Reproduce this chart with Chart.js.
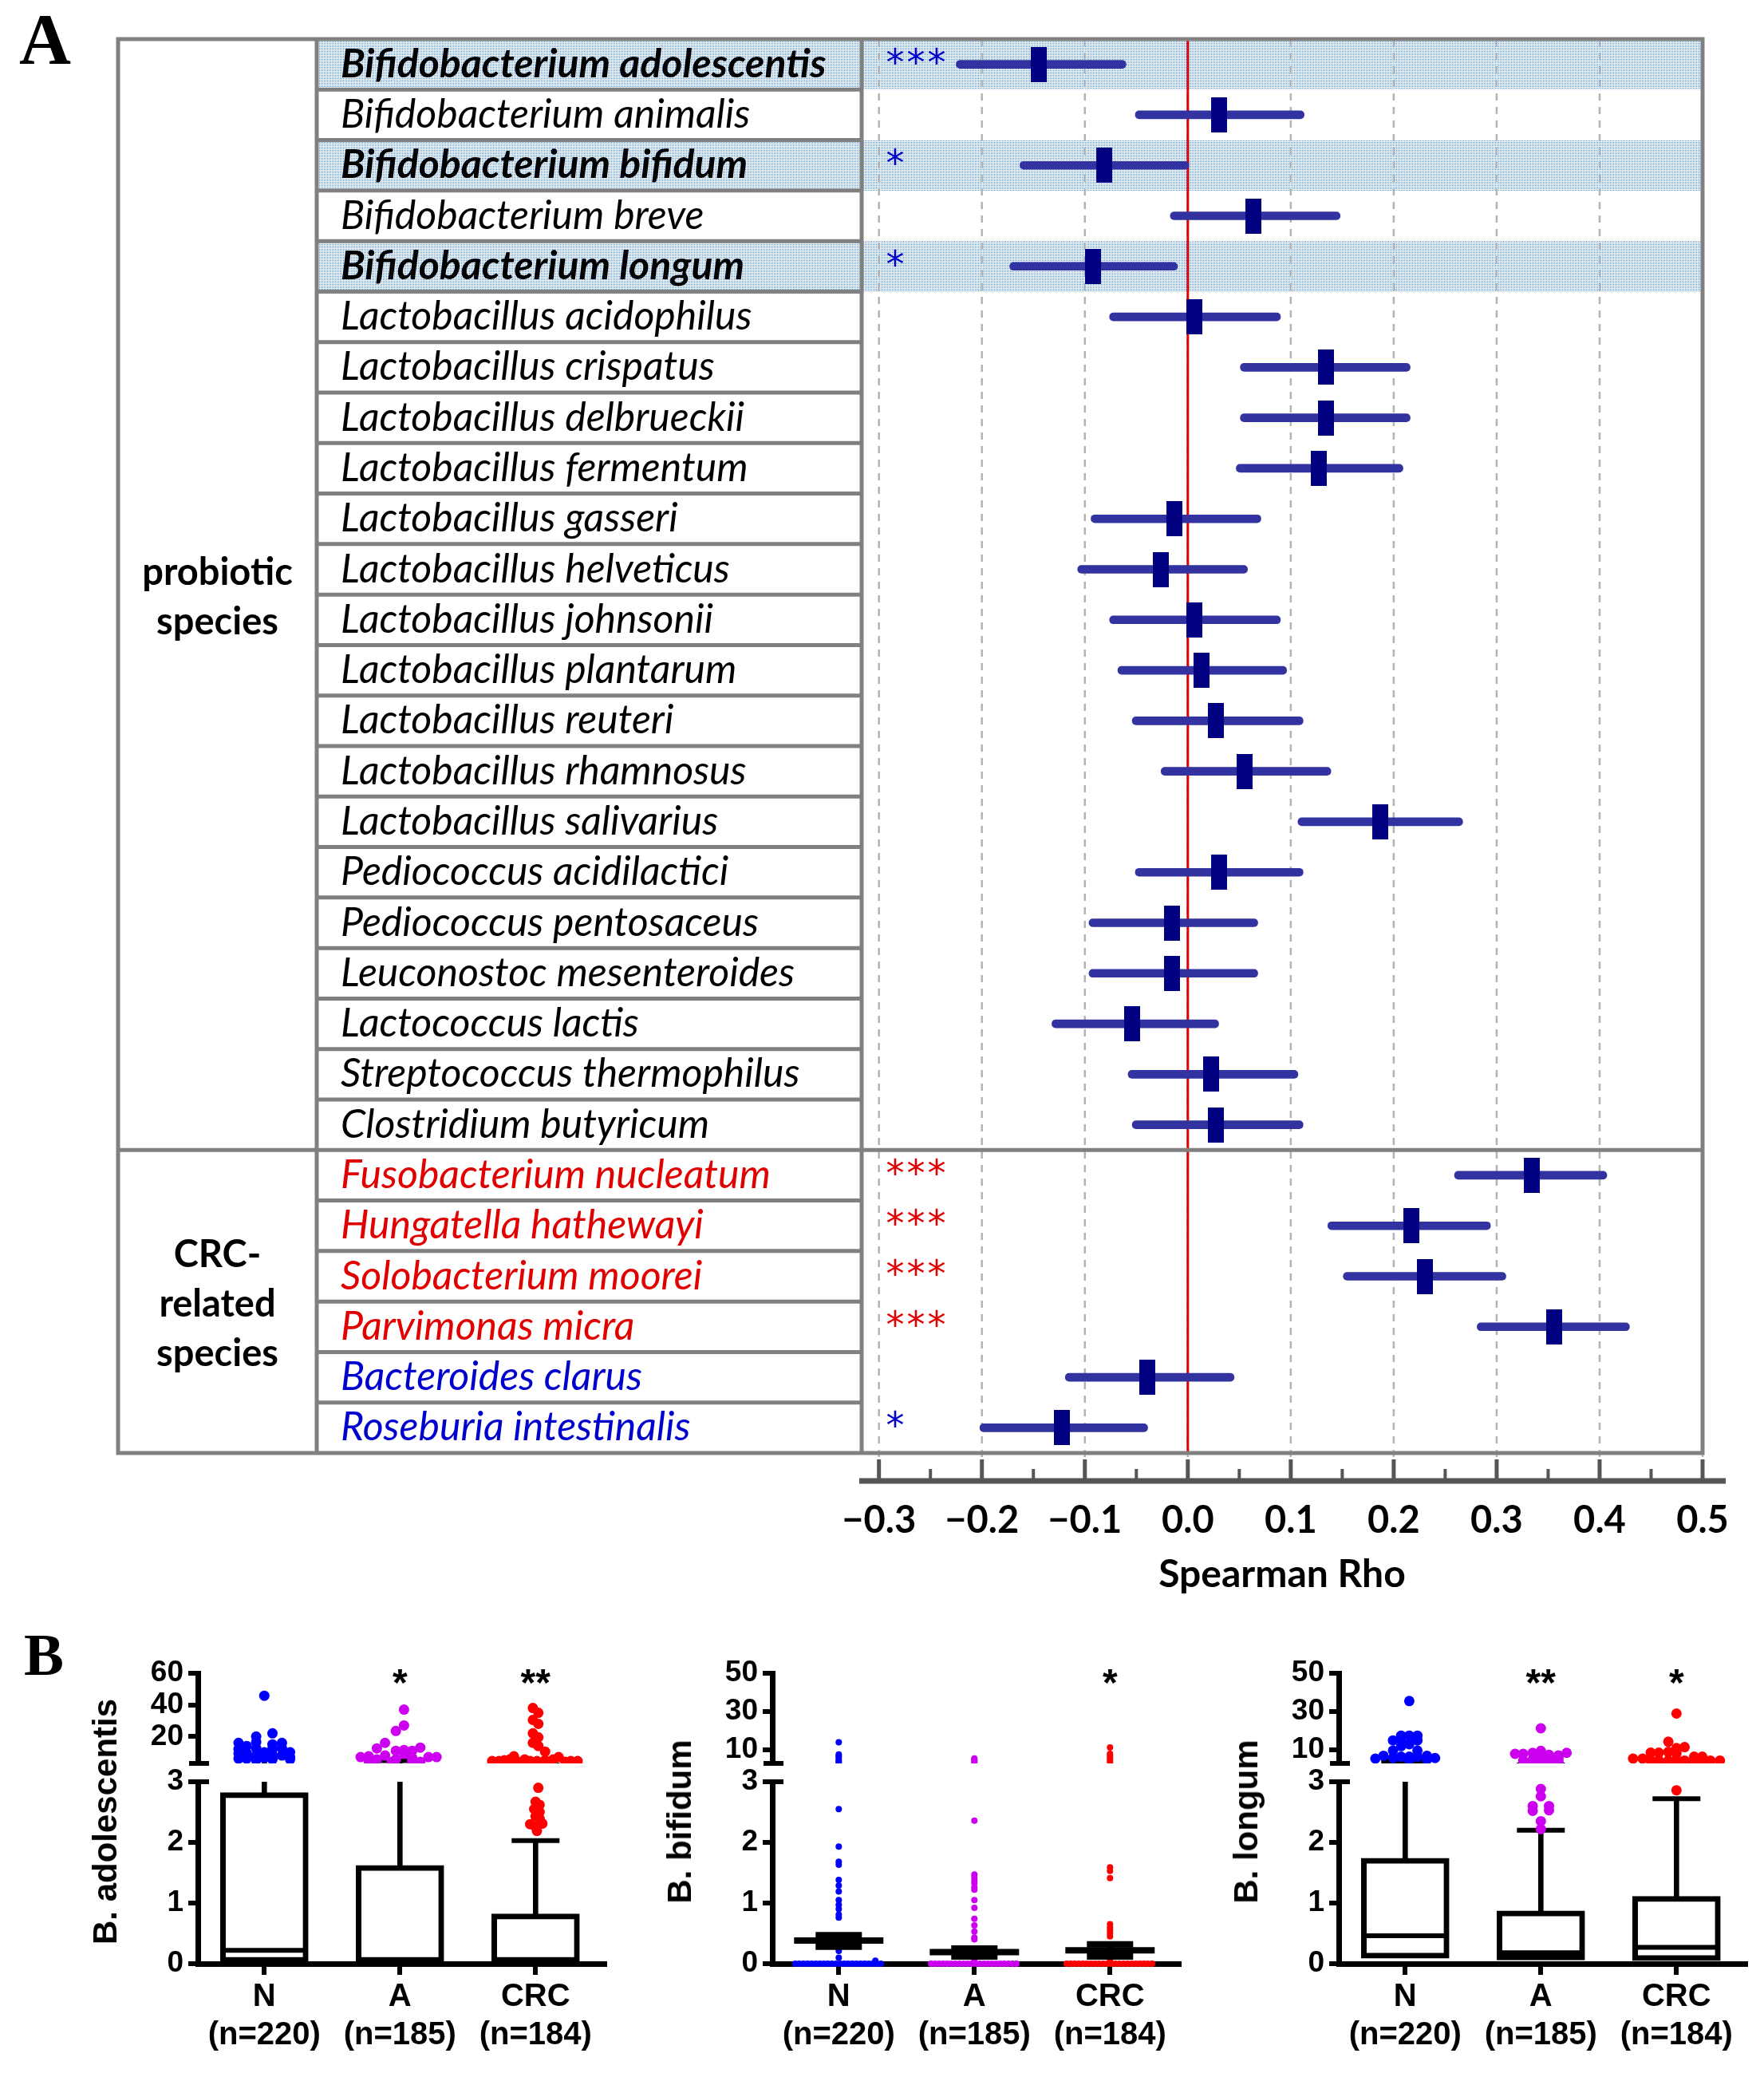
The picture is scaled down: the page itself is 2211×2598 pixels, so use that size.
<!DOCTYPE html>
<html>
<head>
<meta charset="utf-8">
<title>Probiotic species vs Spearman rho</title>
<script src="https://cdn.jsdelivr.net/npm/chart.js@4.4.1/dist/chart.umd.min.js"></script>
<style>
  html, body { margin: 0; padding: 0; background: #fff; }
  #page { position: relative; width: 2211px; height: 2598px; overflow: hidden; background: #fff; }
  #page canvas { position: absolute; }
  .panel { position: absolute; font-family: "Liberation Serif", serif; font-weight: bold; line-height: 1; color: #000; }
  .ytitle { position: absolute; font-family: "Liberation Sans", Arial, sans-serif; font-weight: bold; font-size: 42px;
            line-height: 1; white-space: nowrap; transform: translate(-50%, -50%) rotate(-90deg); }
</style>
</head>
<body>
<div id="page">
  <div class="panel" style="left:24px; top:5px; font-size:90px;">A</div>
  <div class="panel" style="left:30px; top:2036px; font-size:75px;">B</div>
  <canvas id="forest" width="2211" height="2040" style="left:0; top:0; width:2211px; height:2040px;"></canvas>
</div>
<script>
// ---------- panel A ----------
const species = [
  "Bifidobacterium adolescentis", "Bifidobacterium animalis", "Bifidobacterium bifidum",
  "Bifidobacterium breve", "Bifidobacterium longum", "Lactobacillus acidophilus",
  "Lactobacillus crispatus", "Lactobacillus delbrueckii", "Lactobacillus fermentum",
  "Lactobacillus gasseri", "Lactobacillus helveticus", "Lactobacillus johnsonii",
  "Lactobacillus plantarum", "Lactobacillus reuteri", "Lactobacillus rhamnosus",
  "Lactobacillus salivarius", "Pediococcus acidilactici", "Pediococcus pentosaceus",
  "Leuconostoc mesenteroides", "Lactococcus lactis", "Streptococcus thermophilus",
  "Clostridium butyricum", "Fusobacterium nucleatum", "Hungatella hathewayi",
  "Solobacterium moorei", "Parvimonas micra", "Bacteroides clarus", "Roseburia intestinalis"
];
const rho    = [-0.145, 0.030, -0.081, 0.064, -0.092, 0.006, 0.134, 0.134, 0.127, -0.013,
                -0.026, 0.006, 0.013, 0.027, 0.055, 0.187, 0.030, -0.015, -0.015, -0.054,
                 0.023, 0.027, 0.334, 0.217, 0.230, 0.356, -0.039, -0.122];
const ciLow  = [-0.225, -0.051, -0.163, -0.017, -0.173, -0.076, 0.051, 0.051, 0.047, -0.094,
                -0.107, -0.076, -0.068, -0.054, -0.026, 0.107, -0.051, -0.096, -0.096, -0.132,
                -0.058, -0.054, 0.259, 0.136, 0.151, 0.281, -0.119, -0.202];
const ciHigh = [-0.060, 0.113, 0.001, 0.148, -0.010, 0.090, 0.216, 0.216, 0.209, 0.071,
                 0.058, 0.090, 0.096, 0.112, 0.139, 0.267, 0.112, 0.068, 0.068, 0.030,
                 0.107, 0.112, 0.407, 0.294, 0.309, 0.429, 0.045, -0.039];
const stars  = ["***", "", "*", "", "*", "", "", "", "", "", "", "", "", "", "", "", "", "", "", "", "", "",
                "***", "***", "***", "***", "", "*"];
const boldRows = [0, 2, 4];
const redRows = [22, 23, 24, 25];
const blueRows = [26, 27];
const groupLabels = [["probiotic", "species"], ["CRC-", "related", "species"]];
const groupCounts = [22, 6];
const rhoTicks = [-0.3, -0.2, -0.1, 0.0, 0.1, 0.2, 0.3, 0.4, 0.5];

// ---------- panel B ----------
const groupNames = ["N", "A", "CRC"];
const groupSizes = ["(n=220)", "(n=185)", "(n=184)"];
const groupColors = ["#0000ff", "#cc00ee", "#ff0000"];
const bottomTicks = [0, 1, 2, 3];

// B. adolescentis (box plot)
const adolQ1 = [0.02, 0.02, 0.02];
const adolMedian = [0.22, 0.03, 0.03];
const adolQ3 = [2.82, 1.62, 0.82];
const adolWhisker = [7.3, 4.8, 2.03];
const adolStars = ["", "*", "**"];
const adolDotsN = [[0, 45.8], [0.06, 22], [-0.06, 20], [-0.19, 16], [-0.06, 16.5], [0.13, 16], [0.06, 15],
  [-0.13, 14], [-0.19, 12], [-0.06, 12.5], [0.06, 12], [0.13, 12.5], [0.19, 10], [-0.19, 9], [-0.13, 9.5],
  [0, 10], [0.06, 8.5], [-0.06, 8], [0.13, 8], [0.19, 7], [-0.19, 6], [0, 6.5], [-0.13, 6], [0.06, 5.5],
  [0.19, 5.5], [-0.06, 5]];
const adolDotsA = [[0.03, 37], [0.03, 27], [-0.03, 23.5], [-0.11, 16], [-0.17, 12.5], [-0.03, 11], [0.03, 11.5],
  [0.09, 11], [0.15, 13], [-0.29, 7], [-0.23, 7.5], [-0.11, 8], [-0.03, 5.5], [0.03, 9], [0.09, 6.5],
  [0.21, 7], [0.27, 7], [-0.17, 5.5], [-0.23, 4.5], [-0.06, 4], [0.15, 4], [0.09, 4.5]];
const adolDotsCRC = [[-0.02, 38], [0.02, 35], [-0.02, 30.5], [0.02, 28], [-0.02, 22], [0.02, 19.5], [-0.02, 16],
  [0.02, 14], [0.07, 10.5], [-0.32, 4.5], [-0.27, 4.5], [-0.23, 5], [-0.19, 5.5], [-0.16, 7.5], [-0.13, 4],
  [-0.08, 5.5], [-0.04, 4.5], [0.01, 4.5], [0.07, 5], [0.13, 5.5], [0.17, 7], [0.22, 4], [0.26, 4.5],
  [0.31, 4.5], [-0.1, 3.2], [0.1, 3.2],
  [0.02, 2.9], [0, 2.67], [0.03, 2.62], [-0.01, 2.55], [0.03, 2.5], [0, 2.43], [0.03, 2.39], [-0.04, 2.3],
  [0.05, 2.31], [0, 2.26], [0.01, 2.19]];

// B. bifidum (mean +/- SEM with all points)
const bifMean = [0.38, 0.19, 0.22];
const bifSemLow = [0.28, 0.12, 0.12];
const bifSemHigh = [0.47, 0.25, 0.32];
const bifStars = ["", "", "*"];
const bifZeroOffsets = [-0.32, -0.29, -0.26, -0.23, -0.2, -0.17, -0.14, -0.11, -0.08, -0.05, -0.02,
  0.01, 0.04, 0.07, 0.1, 0.13, 0.16, 0.19, 0.22, 0.25, 0.28, 0.31];
const bifDotsN = [[0, 14], [0, 7.7], [0, 6.8], [0, 6.3], [0, 5.2], [0, 4.2], [0, 3.6], [0, 2.55], [0, 1.93],
  [0, 1.68], [0, 1.63], [0, 1.38], [0, 1.29], [0, 1.19], [0, 1.05], [0, 0.97], [0, 0.9], [0, 0.81],
  [0, 0.76], [0, 0.21], [0, 0.1], [0.27, 0.05]];
const bifDotsA = [[0, 5.6], [0, 5], [0, 4.2], [0, 3.6], [0, 2.36], [0, 1.47], [0, 1.42], [0, 1.37], [0, 1.33],
  [0, 1.26], [0, 1.22], [0, 1.05], [0, 0.92], [0, 0.74], [0, 0.63], [0, 0.53], [0, 0.43], [0, 0.4], [0, 0.07]];
const bifDotsCRC = [[0, 11.3], [0, 8], [0, 7.2], [0, 6.2], [0, 5], [0, 3.8], [0, 1.59], [0, 1.53], [0, 1.41],
  [0, 0.65], [0, 0.6], [0, 0.55], [0, 0.5], [0, 0.45], [0, 0.04]];

// B. longum (box plot)
const longQ1 = [0.09, 0.06, 0.05];
const longMedian = [0.46, 0.18, 0.27];
const longQ3 = [1.74, 0.87, 1.11];
const longWhisker = [4.2, 2.2, 2.72];
const longStars = ["", "**", "*"];
const longDotsN = [[0.03, 35.5], [-0.03, 17.5], [0.03, 17.5], [0.09, 17.5], [-0.09, 15], [-0.03, 15.5],
  [0.09, 15], [0.03, 13], [-0.03, 12], [-0.09, 9.7], [0.09, 9.7], [-0.16, 7], [-0.03, 6.5], [0.03, 6.5],
  [0.09, 6.5], [0.16, 7], [-0.22, 5.5], [-0.09, 5.8], [0.22, 5.8], [0.16, 5], [0.03, 5]];
const longDotsA = [[0, 21.3], [-0.19, 8], [-0.13, 8], [-0.06, 8.5], [0, 9.5], [0.06, 7.5], [0.13, 7.2],
  [0.19, 8.5], [-0.13, 4.5], [-0.06, 5], [0, 5], [0.06, 4.5], [0.13, 4], [-0.06, 3.5], [0, 7], [0.06, 6],
  [0.13, 5.5], [0, 2.88], [0, 2.76], [-0.06, 2.6], [0.06, 2.6], [-0.06, 2.52], [0.06, 2.53], [0, 2.35], [0, 2.22]];
const longDotsCRC = [[0, 29], [-0.06, 14.3], [0, 11], [0.06, 11.5], [-0.19, 8.6], [-0.13, 8.6], [-0.06, 9],
  [0, 8.3], [-0.32, 5.5], [-0.25, 5.5], [-0.19, 4.5], [-0.13, 4.5], [-0.06, 4.5], [0, 5], [0.06, 4.5],
  [0.13, 4.5], [0.13, 6.5], [0.19, 5], [0.19, 6.5], [0.25, 4.5], [0.32, 4.5], [0, 3.3], [0, 2.86]];

// ---------- layout ----------
const TABLE_LEFT = 148;
const LABEL_COL_LEFT = 397;
const SANS_B = "'Liberation Sans', Arial, sans-serif";

function line(ctx, x1, y1, x2, y2) {
  ctx.beginPath(); ctx.moveTo(x1, y1); ctx.lineTo(x2, y2); ctx.stroke();
}
function rowHalf(y) {
  return (y.getPixelForValue(1) - y.getPixelForValue(0)) / 2;
}
// keep chart areas exactly where the layout padding puts them
function noLabelPadding(s) {
  s.paddingLeft = 0; s.paddingRight = 0; s.paddingTop = 0; s.paddingBottom = 0;
}
function dotPattern(ctx) {
  const t = document.createElement("canvas");
  t.width = 2; t.height = 2;
  const g = t.getContext("2d");
  g.fillStyle = "#f7fafe"; g.fillRect(0, 0, 2, 2);
  g.fillStyle = "#4a90d8"; g.fillRect(0, 0, 1, 1);
  return ctx.createPattern(t, "repeat");
}
function rhoLabel(v) {
  if (Math.abs(v) < 1e-9) return "0.0";
  return (v < 0 ? "\u2212" : "") + Math.abs(v).toFixed(1);
}

const forestDecor = {
  id: "forestDecor",
  beforeDraw(chart) {
    const { ctx, chartArea: a } = chart;
    const y = chart.scales.y;
    const half = rowHalf(y);
    ctx.save();
    ctx.fillStyle = dotPattern(ctx);
    boldRows.forEach(i => {
      const c = y.getPixelForValue(i);
      ctx.fillRect(LABEL_COL_LEFT, c - half, a.right - LABEL_COL_LEFT, 2 * half);
    });
    ctx.restore();
  },
  beforeDatasetsDraw(chart) {
    const { ctx, chartArea: a } = chart;
    const x = chart.scales.x;
    ctx.save();
    ctx.strokeStyle = "#b4b4b4";
    ctx.lineWidth = 2.5;
    ctx.setLineDash([9, 8]);
    rhoTicks.forEach(v => {
      const px = x.getPixelForValue(v);
      line(ctx, px, a.top, px, a.bottom + 8);
    });
    ctx.setLineDash([]);
    ctx.strokeStyle = "#e00000";
    ctx.lineWidth = 3;
    const z = x.getPixelForValue(0);
    line(ctx, z, a.top, z, a.bottom);
    ctx.restore();
  },
  afterDraw(chart) {
    const { ctx, chartArea: a } = chart;
    const y = chart.scales.y, x = chart.scales.x;
    const half = rowHalf(y);
    ctx.save();
    // table lines
    ctx.strokeStyle = "#808080";
    ctx.lineWidth = 5;
    for (let i = 1; i < species.length; i++) {
      const b = y.getPixelForValue(i) - half;
      if (i === groupCounts[0]) line(ctx, TABLE_LEFT, b, a.right, b);
      else line(ctx, LABEL_COL_LEFT, b, a.left, b);
    }
    ctx.strokeRect(TABLE_LEFT, a.top, a.right - TABLE_LEFT, a.bottom - a.top);
    line(ctx, LABEL_COL_LEFT, a.top, LABEL_COL_LEFT, a.bottom);
    line(ctx, a.left, a.top, a.left, a.bottom);

    // group labels
    ctx.fillStyle = "#000";
    ctx.font = "bold 47px Lato";
    ctx.textAlign = "center";
    ctx.textBaseline = "middle";
    let start = 0;
    groupLabels.forEach((lines, g) => {
      const end = start + groupCounts[g] - 1;
      const cy = (y.getPixelForValue(start) + y.getPixelForValue(end)) / 2 + 4;
      lines.forEach((t, k) => ctx.fillText(t, (TABLE_LEFT + LABEL_COL_LEFT) / 2, cy + (k - (lines.length - 1) / 2) * 62));
      start += groupCounts[g];
    });

    // significance stars
    ctx.font = "italic 46px 'DejaVu Sans'";
    stars.forEach((s, i) => {
      ctx.fillStyle = redRows.includes(i) ? "#e00000" : "#0000cc";
      for (let k = 0; k < s.length; k++) {
        ctx.fillText("*", a.left + 42 + k * 26, y.getPixelForValue(i) + 1);
      }
    });

    // x axis line with major and minor ticks
    const ay = a.bottom + 35;
    ctx.strokeStyle = "#555";
    ctx.lineWidth = 7;
    line(ctx, a.left - 3, ay, a.right + 29, ay);
    ctx.lineWidth = 5;
    rhoTicks.forEach(v => {
      const px = x.getPixelForValue(v);
      line(ctx, px, a.bottom + 8, px, ay);
    });
    ctx.lineWidth = 4;
    for (let i = 0; i < rhoTicks.length - 1; i++) {
      const px = x.getPixelForValue((rhoTicks[i] + rhoTicks[i + 1]) / 2);
      line(ctx, px, a.bottom + 20, px, ay);
    }
    ctx.restore();
  }
};

function pointMark() {
  const c = document.createElement("canvas");
  c.width = 20; c.height = 44;
  const g = c.getContext("2d");
  g.fillStyle = "#000080";
  g.fillRect(0, 0, 20, 44);
  return c;
}

function drawForest() {
  new Chart(document.getElementById("forest"), {
    type: "bar",
    data: {
      labels: species,
      datasets: [
        {
          type: "scatter",
          data: species.map((s, i) => ({ x: rho[i], y: s })),
          pointStyle: pointMark(),
          pointRadius: 10,
          order: 0
        },
        {
          type: "bar",
          indexAxis: "y",
          data: species.map((s, i) => [ciLow[i], ciHigh[i]]),
          backgroundColor: "#3232a0",
          barThickness: 10,
          borderRadius: 5,
          borderSkipped: false,
          order: 1
        }
      ]
    },
    options: {
      responsive: false,
      animation: false,
      events: [],
      layout: { autoPadding: false, padding: { left: 427, top: 49, right: 77, bottom: 0 } },
      plugins: { legend: { display: false }, tooltip: { enabled: false } },
      scales: {
        x: {
          type: "linear",
          position: "bottom",
          offset: false,
          beginAtZero: false,
          min: -0.3168,
          max: 0.5,
          afterBuildTicks: s => { s.ticks = rhoTicks.map(v => ({ value: v })); },
          afterFit: s => { s.height = 219; noLabelPadding(s); },
          grid: { display: false, drawTicks: false, offset: false },
          border: { display: false },
          ticks: {
            font: { family: "Lato", size: 47, weight: "bold" },
            color: "#000",
            padding: 57,
            maxRotation: 0,
            autoSkip: false,
            callback: v => rhoLabel(v)
          },
          title: {
            display: true,
            text: "Spearman Rho",
            font: { family: "Lato", size: 48, weight: "bold" },
            color: "#000",
            padding: { top: 0, bottom: 38 }
          }
        },
        y: {
          type: "category",
          position: "left",
          offset: true,
          afterFit: s => { s.width = 653; noLabelPadding(s); },
          grid: { display: false },
          border: { display: false },
          ticks: {
            autoSkip: false,
            crossAlign: "far",
            padding: 0,
            font: ctx => ({ family: "Lato", size: 50, style: "italic",
                            weight: boldRows.includes(ctx.index) ? "bold" : "normal" }),
            color: ctx => redRows.includes(ctx.index) ? "#e00000" : (blueRows.includes(ctx.index) ? "#0000cc" : "#000")
          }
        }
      }
    },
    plugins: [forestDecor]
  });
}

// ---------- panel B ----------
const subplots = [
  { title: "B. adolescentis", axisX: 248, topMax: 60, topTicks: [20, 40, 60], kind: "box",
    q1: adolQ1, median: adolMedian, q3: adolQ3, whisker: adolWhisker,
    dots: [adolDotsN, adolDotsA, adolDotsCRC], dotRadius: 6.5, stars: adolStars },
  { title: "B. bifidum", axisX: 968, topMax: 50, topTicks: [10, 30, 50], kind: "mean",
    mean: bifMean, semLow: bifSemLow, semHigh: bifSemHigh, zeros: bifZeroOffsets,
    dots: [bifDotsN, bifDotsA, bifDotsCRC], dotRadius: 4, stars: bifStars },
  { title: "B. longum", axisX: 1678, topMax: 50, topTicks: [10, 30, 50], kind: "box",
    q1: longQ1, median: longMedian, q3: longQ3, whisker: longWhisker,
    dots: [longDotsN, longDotsA, longDotsCRC], dotRadius: 6.5, stars: longStars }
];

const subDecor = {
  id: "subDecor",
  afterDraw(chart, args, opts) {
    const { ctx, chartArea: a } = chart;
    ctx.save();
    ctx.strokeStyle = "#000";
    ctx.lineWidth = 6;
    const yb = opts.seg === "top" ? a.bottom : a.top;
    line(ctx, a.left - 11, yb, a.left + 14, yb);
    if (opts.seg === "top") {
      const x = chart.scales.x;
      ctx.fillStyle = "#000";
      ctx.font = "bold 48px " + SANS_B;
      ctx.textAlign = "center";
      ctx.textBaseline = "middle";
      opts.stars.forEach((s, g) => { if (s) ctx.fillText(s, x.getPixelForValue(g), a.top + 15); });
    }
    ctx.restore();
  }
};

function subDatasets(sp, seg) {
  const clip = seg === "top" ? 0 : { left: 12, right: 12, top: 0, bottom: 12 };
  const idx = [0, 1, 2];
  const ds = [];
  sp.dots.forEach((pts, g) => {
    let data = pts.map(([dx, v]) => ({ x: g + dx, y: v }));
    if (sp.zeros) data = sp.zeros.map(dx => ({ x: g + dx, y: 0 })).concat(data);
    ds.push({ type: "scatter", data, pointRadius: sp.dotRadius, backgroundColor: groupColors[g],
              borderWidth: 0, clip, order: sp.kind === "box" ? 0 : 2 });
  });
  if (sp.kind === "box") {
    ds.push({ type: "scatter", data: idx.map(g => ({ x: g, y: sp.median[g] })), pointStyle: "line",
              pointRadius: 53, borderColor: "#000", borderWidth: 6, clip, order: 1 });
    ds.push({ type: "scatter", data: idx.map(g => ({ x: g, y: sp.whisker[g] })), pointStyle: "line",
              pointRadius: 30, borderColor: "#000", borderWidth: 6, clip, order: 1 });
    ds.push({ type: "bar", grouped: false, data: idx.map(g => ({ x: g, y: [sp.q1[g], sp.q3[g]] })),
              backgroundColor: "#fff", borderColor: "#000", borderWidth: 7, borderSkipped: false,
              barThickness: 110, clip, order: 2 });
    ds.push({ type: "bar", grouped: false, data: idx.map(g => ({ x: g, y: [sp.q3[g], sp.whisker[g]] })),
              backgroundColor: "#000", borderWidth: 0, barThickness: 6, clip, order: 3 });
  } else {
    ds.push({ type: "scatter", data: idx.map(g => ({ x: g, y: sp.mean[g] })), pointStyle: "line",
              pointRadius: 56, borderColor: "#000", borderWidth: 8, clip, order: 0 });
    ds.push({ type: "scatter", data: idx.map(g => ({ x: g, y: sp.semLow[g] })).concat(idx.map(g => ({ x: g, y: sp.semHigh[g] }))),
              pointStyle: "line", pointRadius: 29, borderColor: "#000", borderWidth: 8, clip, order: 0 });
    ds.push({ type: "bar", grouped: false, data: idx.map(g => ({ x: g, y: [sp.semLow[g], sp.semHigh[g]] })),
              backgroundColor: "#000", borderWidth: 0, barThickness: 6, clip, order: 1 });
  }
  return ds;
}

function makeSubChart(sp, seg) {
  const canvas = document.createElement("canvas");
  const top = seg === "top" ? 2067 : 2203;
  const h = seg === "top" ? 167 : 391;
  canvas.width = 630; canvas.height = h;
  canvas.style.left = (sp.axisX - 100) + "px";
  canvas.style.top = top + "px";
  canvas.style.width = "630px";
  canvas.style.height = h + "px";
  document.getElementById("page").appendChild(canvas);

  const tickFont = { family: SANS_B, size: 37, weight: "bold" };
  new Chart(canvas, {
    type: "scatter",
    data: { datasets: subDatasets(sp, seg) },
    options: {
      responsive: false,
      animation: false,
      events: [],
      layout: { autoPadding: false,
                padding: seg === "top" ? { top: 30, bottom: 24, left: 0, right: 20 }
                                       : { top: 30, bottom: 0, left: 0, right: 20 } },
      plugins: { legend: { display: false }, tooltip: { enabled: false },
                 subDecor: { seg, stars: sp.stars } },
      scales: {
        x: {
          type: "linear",
          display: seg === "bottom",
          offset: false,
          beginAtZero: false,
          min: -0.49,
          max: 2.51,
          afterBuildTicks: s => { s.ticks = [0, 1, 2].map(v => ({ value: v })); },
          afterFit: s => { if (seg === "bottom") s.height = 133; noLabelPadding(s); },
          grid: { drawOnChartArea: false, offset: false, color: "#000", lineWidth: 6, tickLength: 14 },
          border: { display: true, color: "#000", width: 7 },
          ticks: {
            font: { family: SANS_B, size: 40, weight: "bold" },
            color: "#000",
            padding: 4,
            maxRotation: 0,
            autoSkip: false,
            callback: (v, i) => [groupNames[i], groupSizes[i]]
          }
        },
        y: {
          type: "linear",
          offset: false,
          beginAtZero: false,
          min: seg === "top" ? 3 : 0,
          max: seg === "top" ? sp.topMax : 3,
          afterBuildTicks: s => { s.ticks = (seg === "top" ? sp.topTicks : bottomTicks).map(v => ({ value: v })); },
          afterFit: s => { s.width = 100; noLabelPadding(s); },
          grid: { drawOnChartArea: false, color: "#000", lineWidth: 6, tickLength: 12 },
          border: { display: true, color: "#000", width: 7 },
          ticks: { font: tickFont, color: "#000", padding: 6, autoSkip: false }
        }
      }
    },
    plugins: [subDecor]
  });
}

function drawPanelB() {
  subplots.forEach(sp => {
    makeSubChart(sp, "top");
    makeSubChart(sp, "bottom");
    const t = document.createElement("div");
    t.className = "ytitle";
    t.textContent = sp.title;
    t.style.left = (sp.axisX - 116) + "px";
    t.style.top = "2283px";
    document.getElementById("page").appendChild(t);
  });
}

function drawAll() {
  drawForest();
  drawPanelB();
}

Promise.all([
  document.fonts.load("italic 50px Lato"),
  document.fonts.load("italic bold 50px Lato"),
  document.fonts.load("bold 47px Lato"),
  document.fonts.load("italic 46px 'DejaVu Sans'"),
  document.fonts.load("bold 40px 'Liberation Sans'"),
  document.fonts.load("bold 90px 'Liberation Serif'")
]).then(drawAll, drawAll);
</script>
</body>
</html>
